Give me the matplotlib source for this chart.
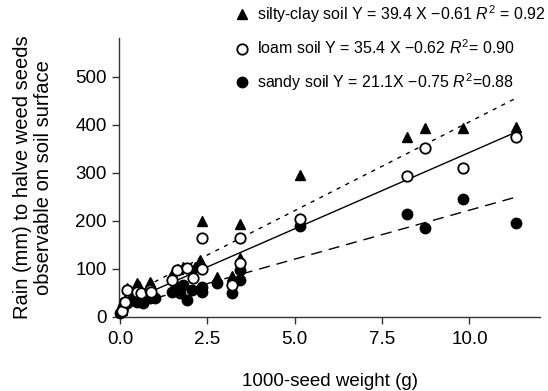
import matplotlib
matplotlib.use("Agg")
import matplotlib.pyplot as plt
import numpy as np
from matplotlib.lines import Line2D

plt.rcParams['font.family'] = ['Liberation Sans', 'DejaVu Sans']
plt.rcParams['mathtext.fontset'] = 'custom'
plt.rcParams['mathtext.rm'] = 'Liberation Sans'
plt.rcParams['mathtext.it'] = 'Liberation Sans:italic'

# Data
silty_x = [0.05, 0.15, 0.2, 0.5, 0.55, 0.85, 0.9, 1.5, 1.65, 1.8, 2.15, 2.3, 2.35, 2.35, 2.77, 3.2, 3.43, 3.43, 5.15, 8.2, 8.73, 9.82, 11.32]
silty_y = [15, 35, 60, 70, 65, 72, 68, 88, 100, 103, 104, 118, 200, 110, 83, 85, 193, 122, 295, 374, 394, 394, 396]

loam_x = [0.05, 0.15, 0.2, 0.5, 0.6, 0.85, 0.9, 1.48, 1.62, 1.91, 2.1, 2.34, 2.34, 3.2, 3.43, 3.43, 5.15, 8.2, 8.73, 9.82, 11.32]
loam_y = [12, 30, 56, 52, 50, 56, 52, 76, 97, 101, 80, 100, 163, 66, 111, 165, 203, 293, 351, 310, 375]

sandy_x = [0.0, 0.05, 0.1, 0.2, 0.35, 0.5, 0.67, 0.86, 1.0, 1.48, 1.6, 1.72, 1.81, 1.91, 2.05, 2.34, 2.34, 2.77, 3.2, 3.43, 3.43, 5.15, 8.2, 8.73, 9.82, 11.32]
sandy_y = [7, 15, 21, 28, 35, 31, 28, 38, 38, 52, 62, 49, 66, 35, 55, 52, 62, 70, 49, 76, 97, 188, 214, 184, 245, 195]

# fitted lines (slope, intercept) as drawn
fit_range = [0.0, 11.32]
silty_fit = (37.0, 36.0)
loam_fit = (31.8, 24.2)
sandy_fit = (20.4, 18.0)

labels = [
    r"silty-clay soil Y = 39.4 X $-$0.61 $R^2$ = 0.92",
    r"loam soil Y = 35.4 X $-$0.62 $R^2$= 0.90",
    r"sandy soil Y = 21.1X $-$0.75 $R^2$=0.88",
]
xticks = [0.0, 2.5, 5.0, 7.5, 10.0]
yticks = [0, 100, 200, 300, 400, 500]

fig = plt.figure(figsize=(5.48, 3.91), dpi=100)
ax = fig.add_axes([0.2177, 0.190, 0.7678, 0.712])

xr = np.array(fit_range)
ax.plot(xr, silty_fit[0] * xr + silty_fit[1], color='black', lw=1, ls=(0, (3, 4)), zorder=2)
ax.plot(xr, loam_fit[0] * xr + loam_fit[1], color='black', lw=1, ls='-', zorder=2)
ax.plot(xr, sandy_fit[0] * xr + sandy_fit[1], color='black', lw=1, ls=(0, (8, 5)), zorder=2)

ax.plot(silty_x, silty_y, ls='none', marker='^', ms=7.5, mfc='black', mec='black', zorder=3, clip_on=False)
ax.plot(sandy_x, sandy_y, ls='none', marker='o', ms=7.5, mfc='black', mec='black', zorder=4, clip_on=False)
ax.plot(loam_x, loam_y, ls='none', marker='o', ms=7.5, mfc='white', mec='black', mew=1.3, zorder=5, clip_on=False)

ax.set_xlim(-0.02, 12.02)
ax.set_ylim(0, 580)
ax.set_xticks(xticks)
ax.set_xticklabels([f"{t:.1f}" for t in xticks])
ax.set_yticks(yticks)
ax.set_yticklabels([str(t) for t in yticks])
for s in ['top', 'right']:
    ax.spines[s].set_visible(False)
for s in ['left', 'bottom']:
    ax.spines[s].set_color('#333333')
    ax.spines[s].set_linewidth(1)
ax.tick_params(axis='both', length=5, width=1, color='#333333', labelsize=13.5)
ax.tick_params(axis='x', pad=5)
ax.tick_params(axis='y', pad=4)

ax.set_xlabel("1000-seed weight (g)", fontsize=13.5, labelpad=18)
ax.set_ylabel("Rain (mm) to halve weed seeds\nobservable on soil surface", fontsize=14.5,
              labelpad=16, linespacing=1.15)

handles = [
    Line2D([], [], ls='none', marker='^', ms=7.5, mfc='black', mec='black'),
    Line2D([], [], ls='none', marker='o', ms=7.5, mfc='white', mec='black', mew=1.3),
    Line2D([], [], ls='none', marker='o', ms=7.5, mfc='black', mec='black'),
]
fig.legend(handles, labels, loc='upper left', bbox_to_anchor=(0.418, 1.008), frameon=False,
           fontsize=11.5, handlelength=0.8, handletextpad=0.55, labelspacing=0.85, borderaxespad=0)

fig.savefig("out.png", dpi=100)
